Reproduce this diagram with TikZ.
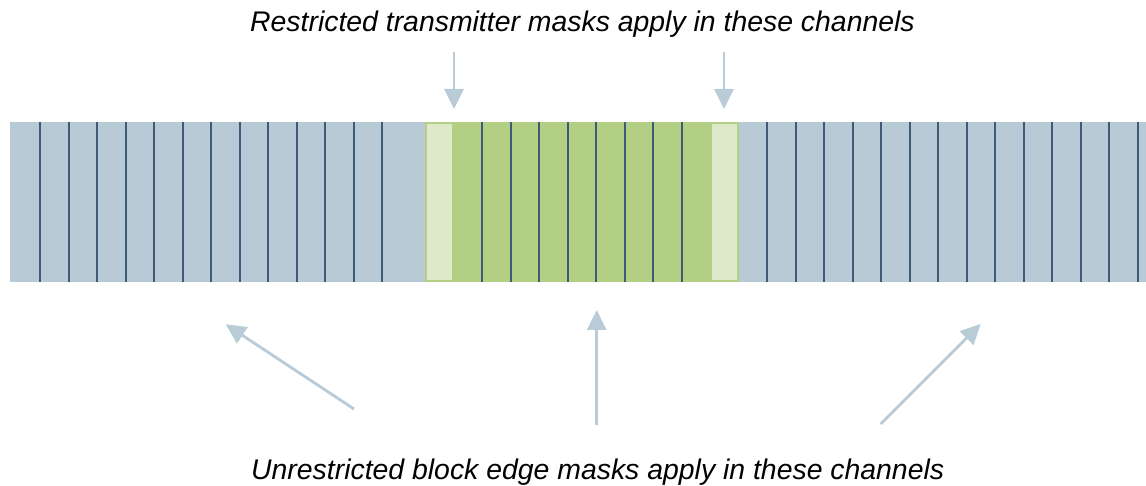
\documentclass[tikz,border=0pt]{standalone}
\usepackage{fontspec}
\setmainfont{Liberation Sans}
\usetikzlibrary{arrows.meta}
\definecolor{barblue}{HTML}{B8CAD5}
\definecolor{chline}{HTML}{3F5A76}
\definecolor{grn}{HTML}{B2CF83}
\definecolor{lgrn}{HTML}{DDE9C8}
\definecolor{arr}{HTML}{B9CBD6}
\begin{document}
\begin{tikzpicture}[x=1pt,y=-1pt,
  chan/.style={draw=chline,line width=2pt},
  pointer/.style={draw=arr,line width=2.8pt,-{Triangle[length=20pt,width=19pt,fill=arr]}},
  caption/.style={font=\fontsize{28.4}{32}\selectfont\itshape,inner sep=0pt,anchor=base west}]
\useasboundingbox (0,0) rectangle (1146,486);
% bar
\fill[barblue] (10,122.5) rectangle (1146,282);
\foreach \k in {0,...,12} \draw[chan] (40+28.5*\k,122.5) -- (40+28.5*\k,282);
\foreach \k in {0,...,13} \draw[chan] (767.3+28.5*\k,122.5) -- (767.3+28.5*\k,282);
% green block
\fill[grn] (425,122.5) rectangle (739,282);
\foreach \k in {1,...,8} \draw[chan] (453.5+28.545*\k,122.5) -- (453.5+28.545*\k,282);
\draw[grn,fill=lgrn,line width=2pt] (426,123.5) rectangle (453,281);
\draw[grn,fill=lgrn,line width=2pt] (711,123.5) rectangle (738,281);
% texts
\node[caption] (top) at (250,31.7) {Restricted transmitter masks apply in these channels};
\node[caption] (bot) at (251,479) {Unrestricted block edge masks apply in these channels};
% arrows
\coordinate (t1s) at (454,52); \coordinate (t1e) at (454,109);
\coordinate (t2s) at (724,52); \coordinate (t2e) at (724,109);
\coordinate (b1s) at (354,409); \coordinate (b1e) at (225.7,324.3);
\coordinate (b2s) at (596.7,425); \coordinate (b2e) at (596.7,310);
\coordinate (b3s) at (880.7,424); \coordinate (b3e) at (980.7,324);
\draw[pointer] (t1s) -- (t1e);
\draw[pointer] (t2s) -- (t2e);
\draw[pointer] (b1s) -- (b1e);
\draw[pointer] (b2s) -- (b2e);
\draw[pointer] (b3s) -- (b3e);
\end{tikzpicture}
\end{document}
